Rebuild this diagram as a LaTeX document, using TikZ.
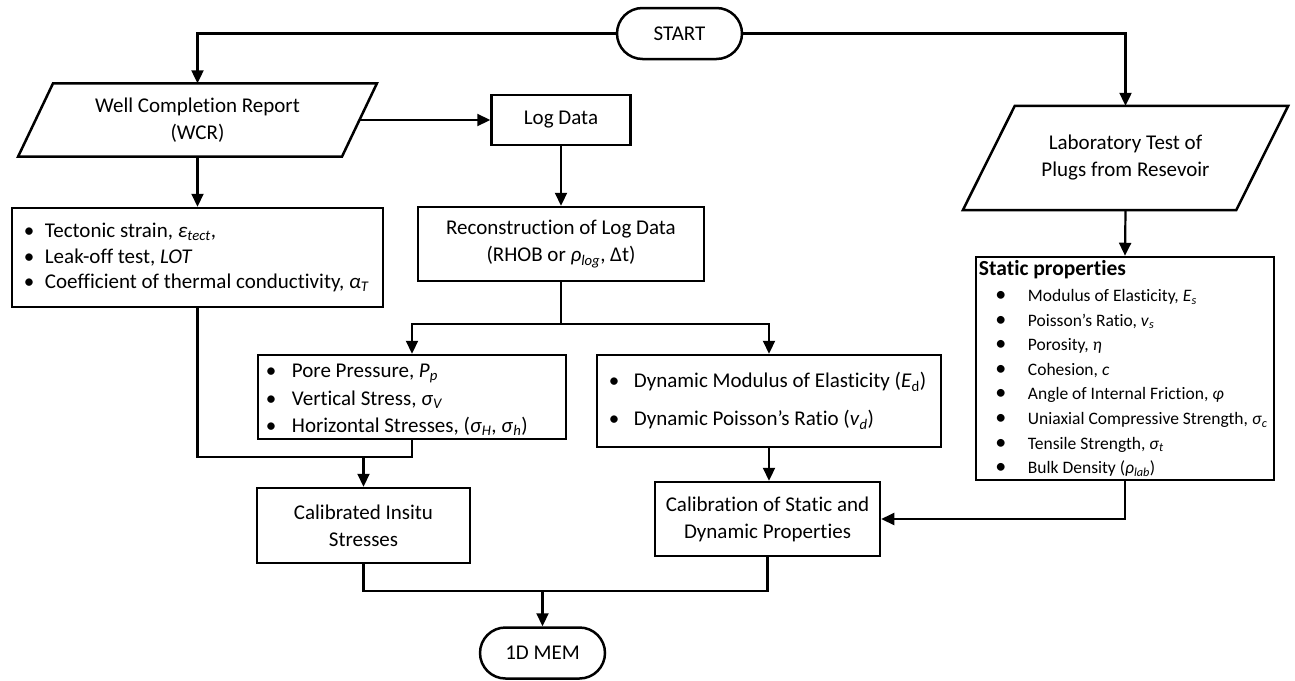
\documentclass[tikz,border=0pt]{standalone}
\usepackage{fontspec}
\setmainfont{Carlito}[Ligatures=NoCommon]
\usetikzlibrary{shapes.misc,arrows.meta}
\newcommand\myLb{\makebox[21pt][l]{\textbullet}}
\newcommand\myPb{\makebox[26pt][l]{\textbullet}}
\newcommand\myDb{\makebox[25pt][l]{\textbullet}}
\newcommand\mySb{\hspace*{16.5pt}\makebox[32.5pt][l]{{\fontsize{22}{24.6}\selectfont\textbullet}}}
\begin{document}
\begin{tikzpicture}[x=1pt,y=-1pt,
  box/.style={draw, line width=2.5pt, rectangle, inner sep=0pt, align=center,
    font=\fontsize{21}{27}\selectfont},
  term/.style={draw, line width=2.5pt, rounded rectangle, minimum width=125pt,
    minimum height=51pt, inner sep=0pt, font=\fontsize{21}{27}\selectfont},
  para/.style={inner sep=0pt, align=center, font=\fontsize{21}{27}\selectfont},
  paraline/.style={line width=2.5pt, line join=miter},
  txt/.style={inner sep=0pt, align=left},
  conn/.style={line width=2.2pt, -{Triangle[length=13pt,width=12pt]}},
  plain/.style={line width=2.2pt},
]
\useasboundingbox (0,0) rectangle (1295,680);

% nodes
\node[term] (start) at (679.5,33.5) {START};

\node[para, minimum width=323.5pt, minimum height=73pt] (wcr) at (197.5,120)
  {Well Completion Report\\(WCR)};
\draw[paraline] ([xshift=-17.5pt]wcr.south west) -- ([xshift=17.5pt]wcr.north west)
  -- ([xshift=17.5pt]wcr.north east) -- ([xshift=-17.5pt]wcr.south east) -- cycle;

\node[para, minimum width=273pt, minimum height=104pt] (lab) at (1125.5,158)
  {Laboratory Test of\\Plugs from Resevoir};
\draw[paraline] ([xshift=-26pt]lab.south west) -- ([xshift=26pt]lab.north west)
  -- ([xshift=26pt]lab.north east) -- ([xshift=-26pt]lab.south east) -- cycle;

\node[box, minimum width=139pt, minimum height=50pt] (log) at (561,120) {Log Data};

\node[box, minimum width=286pt, minimum height=74pt] (recon) at (561,244)
  {Reconstruction of Log Data\\(RHOB or \textit{ρ}\textsubscript{\textit{log}}, Δt)};

\node[box, minimum width=371pt, minimum height=99pt] (left) at (197.5,257.5) {};
\node[txt, anchor=west, font=\fontsize{21}{25.5}\selectfont] (leftT) at ([xshift=13pt]left.west)
  {\myLb Tectonic strain, \textit{ε}\textsubscript{\textit{tect}},\\
   \myLb Leak-off test, \textit{LOT}\\
   \myLb Coefficient of thermal conductivity, \textit{α}\textsubscript{\textit{T}}};

\node[box, minimum width=308pt, minimum height=84pt] (pore) at (412,397) {};
\node[txt, anchor=west, font=\fontsize{21}{27.5}\selectfont] (poreT) at ([xshift=9pt,yshift=-3pt]pore.west)
  {\myPb Pore Pressure, \textit{P}\textsubscript{\textit{p}}\\
   \myPb Vertical Stress, \textit{σ}\textsubscript{\textit{V}}\\
   \myPb Horizontal Stresses, (\textit{σ}\textsubscript{\textit{H}}, \textit{σ}\textsubscript{\textit{h}})};

\node[box, minimum width=344pt, minimum height=92pt] (dyn) at (769,401) {};
\node[txt, anchor=west, font=\fontsize{21}{27}\selectfont] (dynT) at ([xshift=13pt]dyn.west)
  {\myDb Dynamic Modulus of Elasticity (\textit{E}\textsubscript{d})\\[11pt]
   \myDb Dynamic Poisson’s Ratio (\textit{v}\textsubscript{\textit{d}})};

\node[box, minimum width=298pt, minimum height=223pt] (static) at (1125,368.5) {};
\node[txt, anchor=west, font=\fontsize{17.5}{24.6}\selectfont] (staticT) at ([xshift=4pt]static.west)
  {{\fontsize{21.5}{24.6}\selectfont\bfseries Static properties}\\[1.4pt]
   \mySb Modulus of Elasticity, \textit{E}\textsubscript{\textit{s}}\\
   \mySb Poisson’s Ratio, \textit{v}\textsubscript{\textit{s}}\\
   \mySb Porosity, \textit{η}\\
   \mySb Cohesion, \textit{c}\\
   \mySb Angle of Internal Friction, \textit{φ}\\
   \mySb Uniaxial Compressive Strength, \textit{σ}\textsubscript{\textit{c}}\\
   \mySb Tensile Strength, \textit{σ}\textsubscript{\textit{t}}\\
   \mySb Bulk Density (\textit{ρ}\textsubscript{\textit{lab}})};

\node[box, minimum width=213pt, minimum height=75pt] (calins) at (363.5,525.5)
  {Calibrated Insitu\\Stresses};
\node[box, minimum width=225pt, minimum height=74pt] (calib) at (767.5,519)
  {Calibration of Static and\\Dynamic Properties};

\node[term] (mem) at (542.5,653) {1D MEM};

% junction points
\coordinate (split) at (561,324);
\coordinate (j1) at (363.5,457);
\coordinate (j2) at (542.5,591);

% connectors
\draw[conn] (start.west) -| (wcr.north);
\draw[conn] (start.east) -| (lab.north);
\draw[conn] (wcr.south) -- (left.north);
\draw[conn] (wcr.east) -- (wcr.east -| log.west);
\draw[conn] (log.south) -- (recon.north);
\draw[plain] (recon.south) -- (split);
\draw[conn] (split) -| (pore.north);
\draw[conn] (split) -| (dyn.north);
\draw[plain] (left.south) |- (pore.south |- j1) -- (pore.south);
\draw[conn] (j1) -- (calins.north);
\draw[conn] (dyn.south) -- (dyn.south |- calib.north);
\draw[conn] (lab.south) -- (static.north);
\draw[conn] (static.south) |- (calib.east);
\draw[plain] (calins.south) |- (calib.south |- j2) -- (calib.south);
\draw[conn] (j2) -- (mem.north);
\end{tikzpicture}
\end{document}
